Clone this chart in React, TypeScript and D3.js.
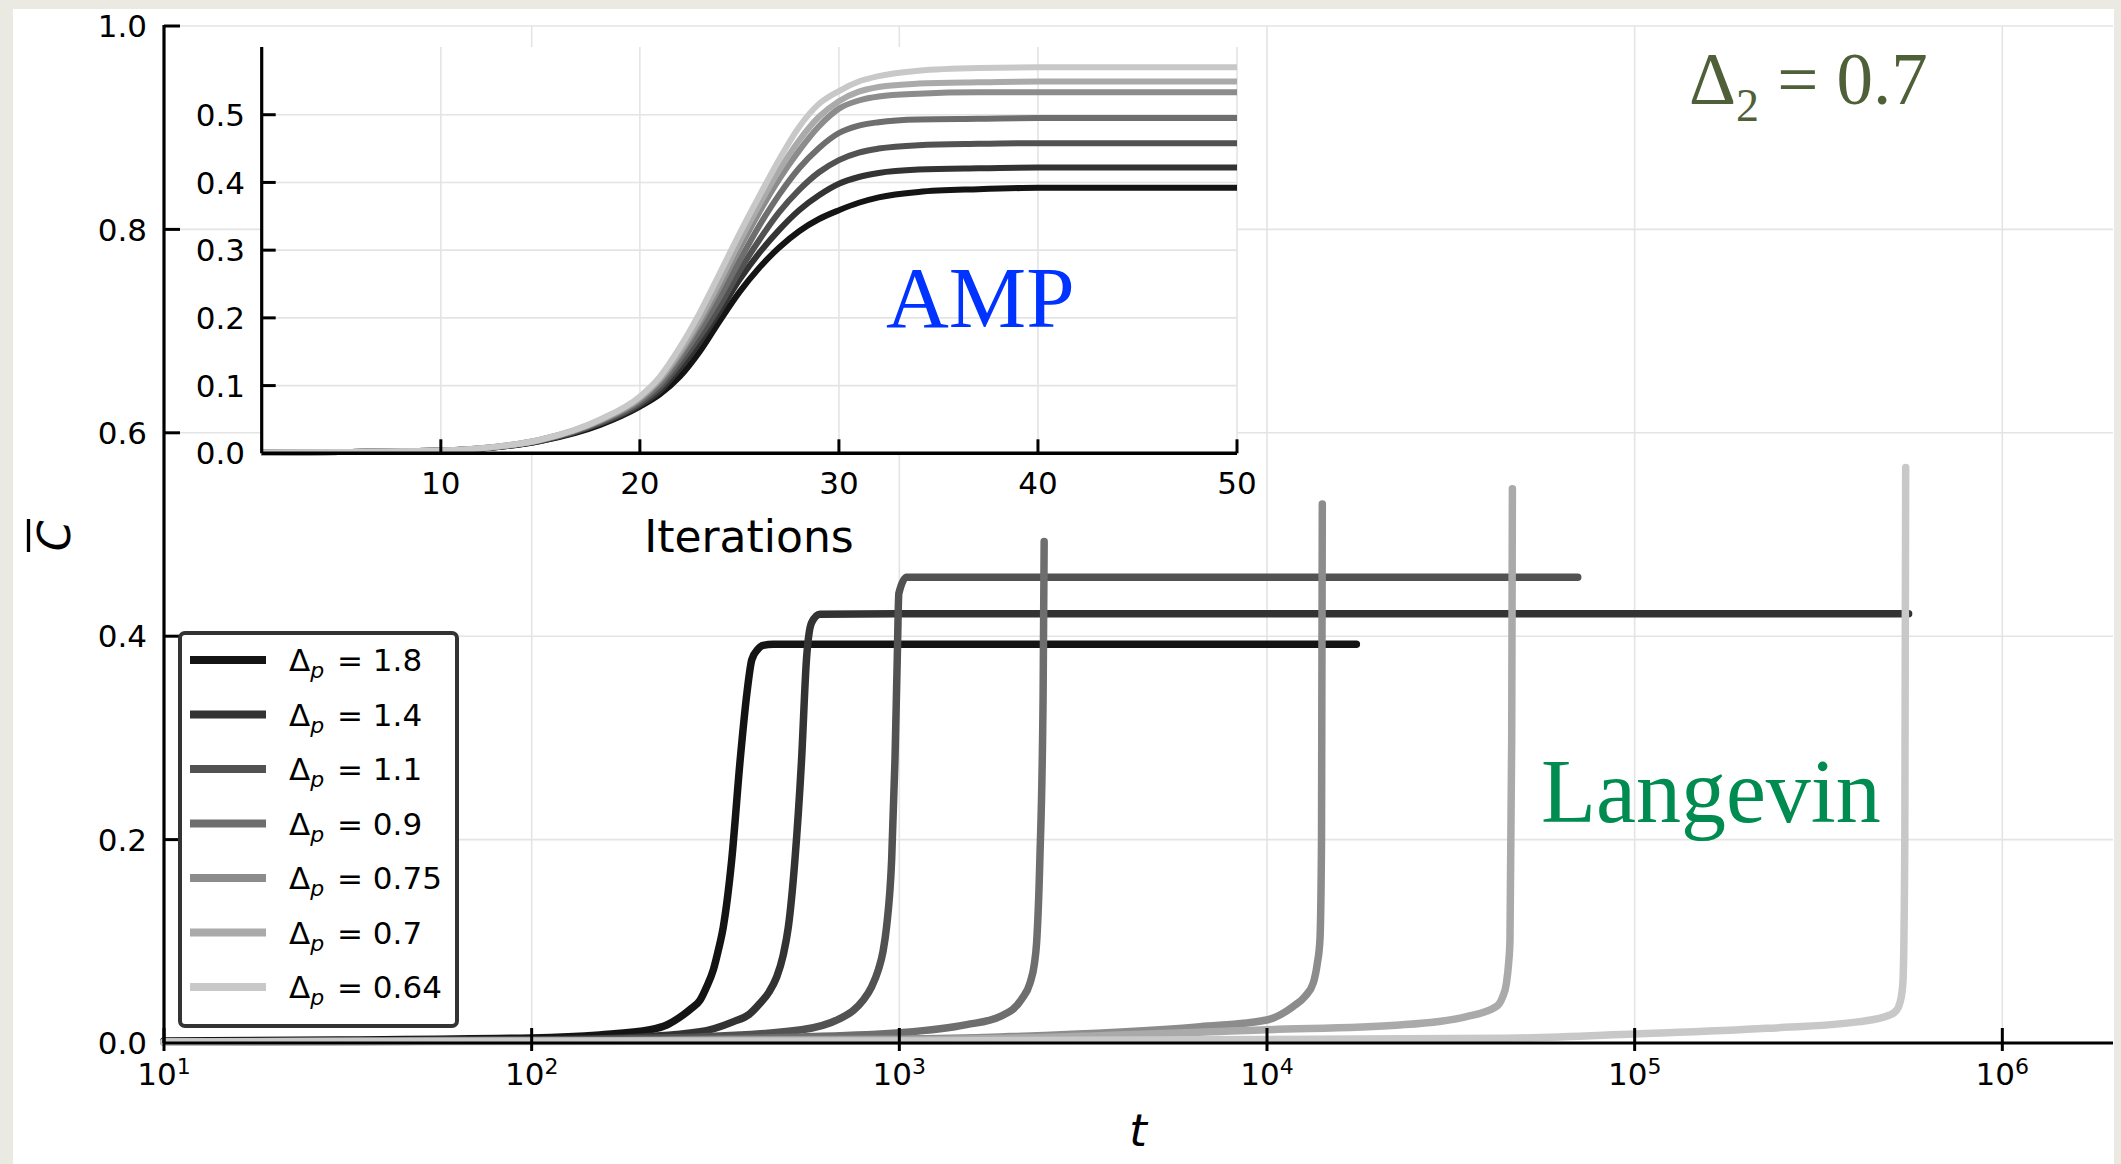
import React from 'react';
import * as d3 from 'd3';

const W = 2121;
const H = 1164;

const deltaLabels = ['1.8', '1.4', '1.1', '0.9', '0.75', '0.7', '0.64'];
const seriesColors = ['#141414', '#333333', '#525252', '#6e6e6e', '#8c8c8c', '#aaaaaa', '#c8c8c8'];

// Langevin curves (t, C)
const tL18 = [10, 30, 100, 153, 210, 233, 258, 272, 287, 299, 312, 322, 332, 350, 369, 385, 397, 412, 426, 454, 1000, 17500];
const cL18 = [0.002, 0.003, 0.005, 0.008, 0.013, 0.0177, 0.0275, 0.034, 0.042, 0.055, 0.072, 0.0915, 0.114, 0.18, 0.278, 0.344, 0.377, 0.387, 0.391, 0.392, 0.392, 0.392];
const tL14 = [10, 100, 153, 287, 354, 390, 418, 442, 464, 483, 499, 520, 542, 559, 577, 608, 1000, 556000];
const cL14 = [0.001, 0.003, 0.004, 0.011, 0.021, 0.028, 0.039, 0.050, 0.065, 0.086, 0.114, 0.18, 0.278, 0.377, 0.413, 0.4215, 0.422, 0.422];
const tL11 = [10, 100, 287, 542, 689, 750, 797, 840, 877, 903, 923, 953, 973, 987, 997, 1047, 1200, 70000];
const cL11 = [0.001, 0.003, 0.006, 0.013, 0.024, 0.032, 0.042, 0.055, 0.072, 0.090, 0.114, 0.18, 0.278, 0.377, 0.442, 0.458, 0.458, 0.458];
const tL09 = [10, 100, 542, 1000, 1524, 1877, 2150, 2267, 2330, 2362, 2411, 2461, 2477];
const cL09 = [0.001, 0.002, 0.006, 0.010, 0.018, 0.026, 0.043, 0.059, 0.078, 0.098, 0.18, 0.344, 0.493];
const tL075 = [10, 100, 1000, 1880, 6580, 9980, 11780, 12700, 13360, 13700, 13930, 14070, 14140];
const cL075 = [0.001, 0.002, 0.004, 0.006, 0.016, 0.0226, 0.036, 0.046, 0.059, 0.078, 0.101, 0.2, 0.530];
const tL07 = [10, 100, 1000, 1880, 10000, 22960, 34900, 42100, 43700, 44800, 45400, 45800, 46300, 46500];
const cL07 = [0.001, 0.002, 0.003, 0.0045, 0.013, 0.0177, 0.026, 0.036, 0.045, 0.059, 0.078, 0.101, 0.3, 0.545];
const tL064 = [10, 100, 1000, 10000, 43000, 100000, 228500, 409000, 494000, 515000, 526000, 533000, 537000, 543000, 546000];
const cL064 = [0.001, 0.0015, 0.002, 0.0035, 0.0046, 0.0089, 0.0144, 0.021, 0.0275, 0.032, 0.039, 0.049, 0.062, 0.2, 0.566];

// AMP curves (iteration, C)
const ampIterations = [1, 5, 10, 12, 15, 18, 20, 21, 22, 23, 24, 25, 26, 27, 28, 29, 30, 31, 32, 34, 37, 40, 45, 50];
const amp18 = [0.001, 0.002, 0.004, 0.0068, 0.018, 0.042, 0.069, 0.087, 0.113, 0.150, 0.195, 0.238, 0.274, 0.304, 0.328, 0.346, 0.359, 0.370, 0.378, 0.386, 0.390, 0.392, 0.392, 0.392];
const amp14 = [0.001, 0.002, 0.004, 0.0070, 0.018, 0.044, 0.071, 0.092, 0.125, 0.164, 0.209, 0.256, 0.296, 0.330, 0.359, 0.381, 0.398, 0.408, 0.414, 0.419, 0.421, 0.422, 0.422, 0.422];
const amp11 = [0.001, 0.002, 0.004, 0.0071, 0.019, 0.045, 0.074, 0.097, 0.132, 0.172, 0.217, 0.269, 0.315, 0.356, 0.389, 0.415, 0.433, 0.444, 0.450, 0.455, 0.457, 0.458, 0.458, 0.458];
const amp09 = [0.001, 0.002, 0.004, 0.0072, 0.019, 0.047, 0.077, 0.102, 0.139, 0.182, 0.230, 0.284, 0.336, 0.382, 0.421, 0.451, 0.473, 0.484, 0.489, 0.493, 0.494, 0.495, 0.495, 0.495];
const amp075 = [0.001, 0.002, 0.004, 0.0075, 0.020, 0.048, 0.080, 0.107, 0.146, 0.192, 0.245, 0.302, 0.356, 0.405, 0.447, 0.483, 0.509, 0.521, 0.527, 0.531, 0.533, 0.533, 0.533, 0.533];
const amp07 = [0.001, 0.002, 0.004, 0.0075, 0.020, 0.049, 0.082, 0.110, 0.150, 0.198, 0.253, 0.312, 0.367, 0.418, 0.462, 0.497, 0.520, 0.534, 0.541, 0.546, 0.548, 0.549, 0.549, 0.549];
const amp064 = [0.001, 0.002, 0.004, 0.0075, 0.020, 0.050, 0.084, 0.113, 0.156, 0.207, 0.265, 0.324, 0.380, 0.434, 0.482, 0.516, 0.535, 0.549, 0.557, 0.565, 0.569, 0.570, 0.570, 0.570];

const mainYTicks = [0, 0.2, 0.4, 0.6, 0.8, 1.0];
const mainXExponents = [1, 2, 3, 4, 5, 6];
const insetXTicks = [10, 20, 30, 40, 50];
const insetYTicks = [0, 0.1, 0.2, 0.3, 0.4, 0.5];

const SANS = "'DejaVu Sans', sans-serif";
const SERIF = "'Liberation Serif', 'Times New Roman', serif";

export default function App() {
  const langT = [tL18, tL14, tL11, tL09, tL075, tL07, tL064];
  const langC = [cL18, cL14, cL11, cL09, cL075, cL07, cL064];
  const ampC = [amp18, amp14, amp11, amp09, amp075, amp07, amp064];

  const x = d3.scaleLog().domain([10, 2e6]).range([164, 2113]);
  const y = d3.scaleLinear().domain([0, 1]).range([1043, 26]);
  const xi = d3.scaleLinear().domain([1, 50]).range([261.7, 1237]);
  const yi = d3.scaleLinear().domain([0, 0.6]).range([453.3, 47]);

  const mainLine = d3
    .line<[number, number]>()
    .x((d) => x(d[0]))
    .y((d) => y(d[1]))
    .curve(d3.curveMonotoneX);
  const insetLine = d3
    .line<[number, number]>()
    .x((d) => xi(d[0]))
    .y((d) => yi(d[1]))
    .curve(d3.curveMonotoneX);

  const grid = '#e4e4e4';
  const [x0, x1] = x.range();
  const [y0, y1] = y.range();

  const legendX = 180;
  const legendY = 633;
  const rowStart = 660;
  const rowGap = 54.5;

  return (
    <svg
      width={W}
      height={H}
      viewBox={`0 0 ${W} ${H}`}
      style={{ position: 'absolute', left: 0, top: 0 }}
    >
      <rect x={0} y={0} width={W} height={H} fill="#ebeae2" />
      <rect x={13} y={9} width={2101} height={H} fill="#ffffff" />

      {/* main grid */}
      {mainXExponents.slice(1).map((e) => (
        <line key={'gx' + e} x1={x(10 ** e)} x2={x(10 ** e)} y1={y1} y2={y0} stroke={grid} strokeWidth={1.6} />
      ))}
      {mainYTicks.slice(1).map((v) => (
        <line key={'gy' + v} x1={x0} x2={x1} y1={y(v)} y2={y(v)} stroke={grid} strokeWidth={1.6} />
      ))}

      {/* main curves */}
      {langT.map((ts, i) => (
        <path
          key={'L' + i}
          d={mainLine(ts.map((t, j) => [t, langC[i][j]] as [number, number])) || ''}
          fill="none"
          stroke={seriesColors[i]}
          strokeWidth={7.5}
          strokeLinecap="round"
          strokeLinejoin="round"
        />
      ))}

      {/* main axes */}
      <line x1={x0} x2={x1} y1={y0} y2={y0} stroke="#000" strokeWidth={3} />
      <line x1={x0} x2={x0} y1={y0} y2={y1 - 1} stroke="#000" strokeWidth={3.2} />
      {mainYTicks.map((v) => (
        <g key={'ty' + v}>
          {v > 0 && <line x1={x0} x2={x0 + 16} y1={y(v)} y2={y(v)} stroke="#000" strokeWidth={3} />}
          <text x={147} y={y(v)} dy="0.36em" textAnchor="end" fontFamily={SANS} fontSize={31} fill="#000">
            {v.toFixed(1)}
          </text>
        </g>
      ))}
      {mainXExponents.map((e) => (
        <g key={'tx' + e}>
          <line x1={x(10 ** e)} x2={x(10 ** e)} y1={y0 - 15} y2={y0 + 8} stroke="#000" strokeWidth={3} />
          <text x={x(10 ** e)} y={1085} textAnchor="middle" fontFamily={SANS} fontSize={31} fill="#000">
            10
            <tspan dy={-11} fontSize={22}>
              {e}
            </tspan>
          </text>
        </g>
      ))}

      {/* axis labels */}
      <text x={1138} y={1146} textAnchor="middle" fontFamily={SANS} fontStyle="italic" fontSize={45} fill="#000">
        t
      </text>
      <text
        transform="translate(70,536) rotate(-90)"
        textAnchor="middle"
        fontFamily={SANS}
        fontStyle="italic"
        fontSize={44}
        fill="#000"
      >
        C
      </text>
      <line x1={28.5} x2={28.5} y1={519} y2={552} stroke="#000" strokeWidth={3.3} />

      {/* legend */}
      <rect
        x={legendX}
        y={legendY}
        width={277}
        height={393}
        rx={5}
        ry={5}
        fill="#ffffff"
        stroke="#333333"
        strokeWidth={4}
      />
      {deltaLabels.map((lab, i) => {
        const ry = rowStart + i * rowGap;
        return (
          <g key={'lg' + i}>
            <line x1={190} x2={266} y1={ry} y2={ry} stroke={seriesColors[i]} strokeWidth={8} />
            <text x={289} y={ry + 11} fontFamily={SANS} fontSize={31} fill="#000">
              Δ
              <tspan dy={7} fontSize={22} fontStyle="italic">
                p
              </tspan>
              <tspan dy={-7} dx={3}>
                {' = ' + lab}
              </tspan>
            </text>
          </g>
        );
      })}

      {/* inset */}
      <rect x={xi(1)} y={yi(0.6)} width={xi(50) - xi(1)} height={yi(0) - yi(0.6)} fill="#ffffff" />
      {insetXTicks.map((v) => (
        <line key={'igx' + v} x1={xi(v)} x2={xi(v)} y1={yi(0.6)} y2={yi(0)} stroke={grid} strokeWidth={1.6} />
      ))}
      {insetYTicks.slice(1).map((v) => (
        <line key={'igy' + v} x1={xi(1)} x2={xi(50)} y1={yi(v)} y2={yi(v)} stroke={grid} strokeWidth={1.6} />
      ))}
      {ampC.map((vals, i) => (
        <path
          key={'A' + i}
          d={insetLine(ampIterations.map((it, j) => [it, vals[j]] as [number, number])) || ''}
          fill="none"
          stroke={seriesColors[i]}
          strokeWidth={6}
          strokeLinejoin="round"
        />
      ))}
      <line x1={xi(1)} x2={xi(50)} y1={yi(0)} y2={yi(0)} stroke="#000" strokeWidth={3.5} />
      <line x1={xi(1)} x2={xi(1)} y1={yi(0)} y2={yi(0.6)} stroke="#000" strokeWidth={3.2} />
      {insetYTicks.map((v) => (
        <g key={'ity' + v}>
          {v > 0 && <line x1={xi(1)} x2={xi(1) + 14} y1={yi(v)} y2={yi(v)} stroke="#000" strokeWidth={3} />}
          <text x={245} y={yi(v)} dy="0.36em" textAnchor="end" fontFamily={SANS} fontSize={31} fill="#000">
            {v.toFixed(1)}
          </text>
        </g>
      ))}
      {insetXTicks.map((v) => (
        <g key={'itx' + v}>
          <line x1={xi(v)} x2={xi(v)} y1={yi(0) - 14} y2={yi(0)} stroke="#000" strokeWidth={3} />
          <text x={xi(v)} y={494} textAnchor="middle" fontFamily={SANS} fontSize={31} fill="#000">
            {v}
          </text>
        </g>
      ))}
      <text x={749} y={552} textAnchor="middle" fontFamily={SANS} fontSize={44} fill="#000">
        Iterations
      </text>

      {/* annotations */}
      <text x={886} y={327} fontFamily={SERIF} fontSize={87} fill="#0033ff">
        AMP
      </text>
      <text x={1541} y={822} fontFamily={SERIF} fontSize={90} fill="#008c50">
        Langevin
      </text>
      <text x={1689} y={104} fontFamily={SERIF} fontSize={73} fill="#4f6038">
        Δ
        <tspan dy={17} fontSize={46}>
          2
        </tspan>
        <tspan dy={-17}>{' = 0.7'}</tspan>
      </text>
    </svg>
  );
}
